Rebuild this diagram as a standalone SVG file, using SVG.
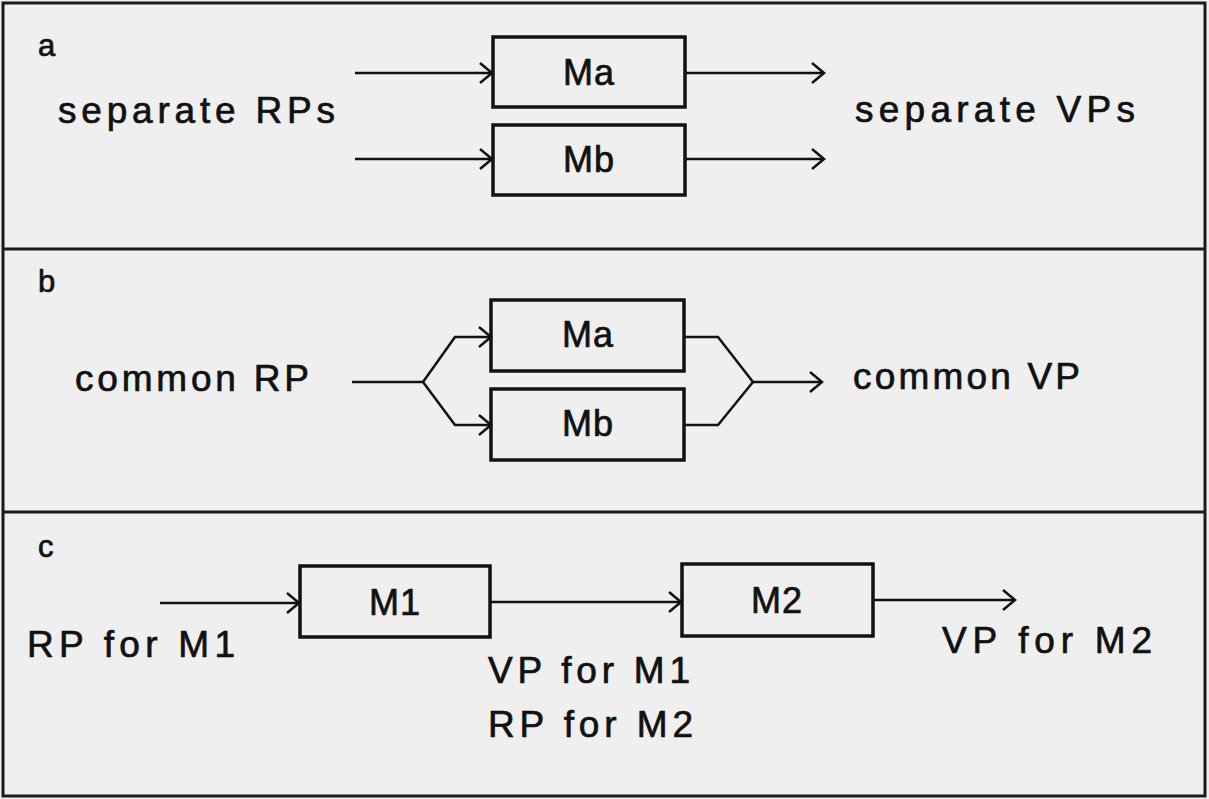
<svg xmlns="http://www.w3.org/2000/svg" width="1209" height="799" viewBox="0 0 1209 799">
<defs>
<style>
.bg{fill:#efefef}
.frame{fill:none;stroke:#1a1a1a;stroke-width:3}
.box{fill:none;stroke:#111;stroke-width:3.5}
.ln{fill:none;stroke:#111;stroke-width:2.5;stroke-linejoin:miter}
.arr{marker-end:url(#ah)}
text{font-family:"Liberation Sans",Arial,Helvetica,sans-serif;fill:#111;stroke:#111;stroke-width:0.7;font-size:37px}
.mid{text-anchor:middle;font-size:36px;letter-spacing:1px}
.pl{font-size:31px}
</style>
<marker id="ah" markerUnits="userSpaceOnUse" markerWidth="18" markerHeight="26" refX="15" refY="13" orient="auto">
<path d="M3,3 L15,13 L3,23" fill="none" stroke="#111" stroke-width="2.5"/>
</marker>
</defs>
<rect class="bg" x="0" y="0" width="1209" height="799"/>
<g id="frame">
<rect class="frame" x="3" y="3" width="1202" height="793"/>
<line class="frame" x1="3" y1="249" x2="1205" y2="249"/>
<line class="frame" x1="3" y1="512" x2="1205" y2="512"/>
</g>
<g id="connectors">
<line class="ln arr" x1="355" y1="73" x2="492" y2="73"/>
<line class="ln arr" x1="686" y1="73" x2="824" y2="73"/>
<line class="ln arr" x1="355" y1="159" x2="492" y2="159"/>
<line class="ln arr" x1="686" y1="159" x2="824" y2="159"/>
<polyline class="ln" points="352,382 423,382"/>
<polyline class="ln arr" points="423,382 455,337 491,337"/>
<polyline class="ln arr" points="423,382 455,425 491,425"/>
<polyline class="ln" points="684,337 718,337 753,382"/>
<polyline class="ln" points="684,425 718,425 753,382"/>
<line class="ln arr" x1="753" y1="382" x2="822" y2="382"/>
<line class="ln arr" x1="160" y1="603" x2="299" y2="603"/>
<line class="ln arr" x1="491" y1="602" x2="681" y2="602"/>
<line class="ln arr" x1="874" y1="600" x2="1015" y2="600"/>
</g>
<g id="panel-a">
<text class="pl" x="38" y="56">a</text>
<text x="58" y="123" textLength="277" lengthAdjust="spacing">separate RPs</text>
<text x="855" y="122" textLength="280" lengthAdjust="spacing">separate VPs</text>
</g>
<g id="node-a-Ma">
<rect class="box" x="493" y="37" width="192" height="70"/>
<text class="mid" x="589" y="85">Ma</text>
</g>
<g id="node-a-Mb">
<rect class="box" x="493" y="125" width="192" height="70"/>
<text class="mid" x="589" y="172">Mb</text>
</g>
<g id="panel-b">
<text class="pl" x="38" y="292">b</text>
<text x="75" y="391" textLength="234" lengthAdjust="spacing">common RP</text>
<text x="853" y="389" textLength="227" lengthAdjust="spacing">common VP</text>
</g>
<g id="node-b-Ma">
<rect class="box" x="491" y="300" width="193" height="71"/>
<text class="mid" x="588" y="347">Ma</text>
</g>
<g id="node-b-Mb">
<rect class="box" x="491" y="389" width="193" height="71"/>
<text class="mid" x="588" y="436">Mb</text>
</g>
<g id="panel-c">
<text class="pl" x="38" y="557">c</text>
<text x="27" y="657" textLength="208" lengthAdjust="spacing">RP for M1</text>
<text x="488" y="683" textLength="202" lengthAdjust="spacing">VP for M1</text>
<text x="488" y="737" textLength="205" lengthAdjust="spacing">RP for M2</text>
<text x="942" y="653" textLength="210" lengthAdjust="spacing">VP for M2</text>
</g>
<g id="node-M1">
<rect class="box" x="300" y="566" width="190" height="71"/>
<text class="mid" x="395" y="615">M1</text>
</g>
<g id="node-M2">
<rect class="box" x="682" y="564" width="191" height="72"/>
<text class="mid" x="777" y="613">M2</text>
</g>
</svg>
